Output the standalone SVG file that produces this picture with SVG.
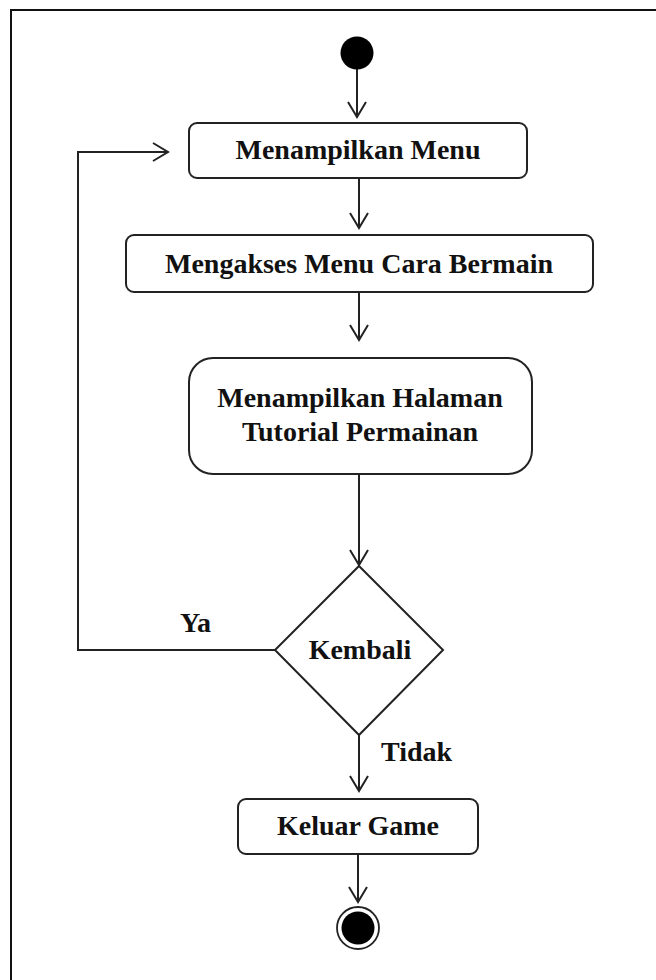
<svg xmlns="http://www.w3.org/2000/svg" width="656" height="980" viewBox="0 0 656 980">
  <style>
    .frame { fill: none; stroke: #111; stroke-width: 2; }
    .node { fill: #fff; stroke: #222; stroke-width: 2; }
    .edge { fill: none; stroke: #222; stroke-width: 2; }
    .lbl { font-family: "Liberation Serif", "Times New Roman", serif; font-weight: bold; font-size: 28px; fill: #111; }
    .mid { text-anchor: middle; }
  </style>
  <defs>
    <marker id="open" viewBox="0 0 18 20" refX="16" refY="10" markerWidth="18" markerHeight="20" markerUnits="userSpaceOnUse" orient="auto">
      <path d="M1,1 L16,10 L1,19" fill="none" stroke="#222" stroke-width="2"/>
    </marker>
  </defs>

  <rect width="656" height="980" fill="#fff"/>
  <!-- frame: top and left edges -->
  <path class="frame" d="M11,980 V10 H656"/>

  <g id="connectors">
    <line class="edge" x1="357" y1="69" x2="357" y2="117" marker-end="url(#open)"/>
    <line class="edge" x1="359" y1="178" x2="359" y2="228" marker-end="url(#open)"/>
    <line class="edge" x1="359" y1="292" x2="359" y2="340" marker-end="url(#open)"/>
    <line class="edge" x1="359" y1="474" x2="359" y2="565" marker-end="url(#open)"/>
    <path class="edge" d="M275,650 H78 V152 H168" marker-end="url(#open)"/>
    <line class="edge" x1="359" y1="735" x2="359" y2="791" marker-end="url(#open)"/>
    <line class="edge" x1="358" y1="854" x2="358" y2="902" marker-end="url(#open)"/>
    <text class="lbl" x="180" y="632">Ya</text>
    <text class="lbl" x="381" y="761">Tidak</text>
  </g>

  <g id="start">
    <circle cx="357" cy="53" r="16.5" fill="#000"/>
  </g>

  <g id="menampilkan-menu">
    <rect class="node" x="189" y="123" width="338" height="55" rx="8"/>
    <text class="lbl mid" x="358" y="159">Menampilkan Menu</text>
  </g>

  <g id="mengakses-menu">
    <rect class="node" x="126" y="235" width="467" height="57" rx="8"/>
    <text class="lbl mid" x="359" y="273">Mengakses Menu Cara Bermain</text>
  </g>

  <g id="halaman-tutorial">
    <rect class="node" x="189" y="358" width="343" height="116" rx="24"/>
    <text class="lbl mid" x="360" y="407">Menampilkan Halaman</text>
    <text class="lbl mid" x="360" y="441">Tutorial Permainan</text>
  </g>

  <g id="kembali">
    <polygon class="node" points="359,566 443,650 359,735 275,650"/>
    <text class="lbl mid" x="360" y="659">Kembali</text>
  </g>

  <g id="keluar-game">
    <rect class="node" x="238" y="799" width="240" height="55" rx="8"/>
    <text class="lbl mid" x="358" y="835">Keluar Game</text>
  </g>

  <g id="end">
    <circle cx="358" cy="928" r="21" fill="#fff" stroke="#222" stroke-width="1.8"/>
    <circle cx="358" cy="928" r="16.5" fill="#000"/>
  </g>
</svg>
